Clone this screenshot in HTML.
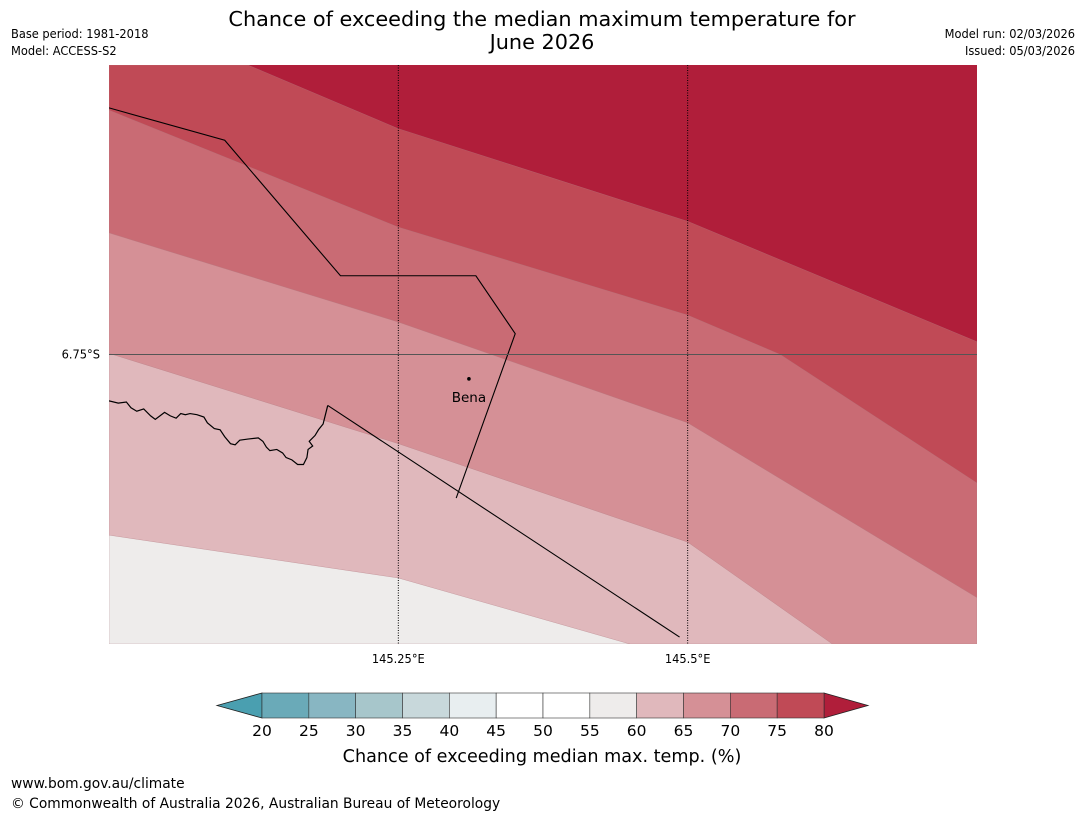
<!DOCTYPE html>
<html><head><meta charset="utf-8"><style>
html,body{margin:0;padding:0;background:#fff;}
svg text{font-family:"DejaVu Sans","Liberation Sans",sans-serif;fill:#000;}
.sm{font-family:"DejaVu Sans Condensed","DejaVu Sans","Liberation Sans",sans-serif;font-size:12.7px;}
</style></head><body>
<svg id="chart" width="1085" height="816" viewBox="0 0 1085 816" xmlns="http://www.w3.org/2000/svg">
<text x="542" y="26" text-anchor="middle" font-size="20.8">Chance of exceeding the median maximum temperature for</text>
<text x="542" y="49" text-anchor="middle" font-size="20.8">June 2026</text>
<text class="sm" x="11" y="38">Base period: 1981-2018</text>
<text class="sm" x="11" y="55">Model: ACCESS-S2</text>
<text class="sm" x="1075" y="38" text-anchor="end">Model run: 02/03/2026</text>
<text class="sm" x="1075" y="55" text-anchor="end">Issued: 05/03/2026</text>
<defs><clipPath id="mapclip"><rect x="109" y="65" width="868" height="579"/></clipPath></defs>
<g id="map" clip-path="url(#mapclip)"></g>
<g id="axes"></g>
<g id="cbar"></g>
<text x="542" y="762" text-anchor="middle" font-size="17.6">Chance of exceeding median max. temp. (%)</text>
<text x="11" y="788" font-size="13.8">www.bom.gov.au/climate</text>
<text x="11" y="808" font-size="13.8">© Commonwealth of Australia 2026, Australian Bureau of Meteorology</text>
</svg>
<script>
const levels=[20,25,30,35,40,45,50,55,60,65,70,75,80];
const bandColors=["#6aaab8","#88b6c2","#a7c6cb","#c8d8db","#e8eef0","#ffffff","#ffffff","#eeeceb","#e0b8bc","#d59096","#c96b74","#c04a56"];
const underColor="#4a9fb0", overColor="#b01e3a";
const contourLevels=[60,65,70,75,80];
const contour60=[[145.0,-6.906],[145.25,-6.943],[145.45,-7.0]];
const contour65=[[145.0,-6.749],[145.25,-6.827],[145.5,-6.912],[145.625,-7.0]];
const contour70=[[145.0,-6.645],[145.25,-6.722],[145.5,-6.809],[145.75,-6.96]];
const contour75=[[145.0,-6.539],[145.25,-6.64],[145.5,-6.716],[145.58,-6.75],[145.75,-6.861]];
const contour80=[[145.12,-6.5],[145.25,-6.555],[145.5,-6.635],[145.75,-6.739]];
const contours=[contour60,contour65,contour70,contour75,contour80];
const border1=[[145.0,-6.537],[145.1,-6.565],[145.2,-6.682],[145.317,-6.682],[145.351,-6.732],[145.3,-6.874]];
const border2=[[145.189,-6.794],[145.493,-6.994]];
const river=[[145.0,-6.79],[145.008,-6.792],[145.015,-6.791],[145.019,-6.796],[145.024,-6.799],[145.03,-6.797],[145.036,-6.803],[145.04,-6.806],[145.044,-6.803],[145.048,-6.8],[145.053,-6.803],[145.058,-6.805],[145.062,-6.801],[145.066,-6.802],[145.07,-6.801],[145.076,-6.802],[145.082,-6.804],[145.085,-6.809],[145.091,-6.814],[145.096,-6.815],[145.1,-6.821],[145.105,-6.827],[145.109,-6.828],[145.113,-6.824],[145.12,-6.823],[145.129,-6.822],[145.133,-6.825],[145.136,-6.83],[145.139,-6.833],[145.145,-6.832],[145.15,-6.835],[145.153,-6.839],[145.158,-6.841],[145.163,-6.845],[145.168,-6.845],[145.171,-6.839],[145.172,-6.832],[145.176,-6.829],[145.173,-6.825],[145.178,-6.82],[145.181,-6.815],[145.185,-6.81],[145.189,-6.794]];
const town={name:"Bena",lon:145.311,lat:-6.771};
const lonTicks=[145.25,145.5], lonLabels=["145.25°E","145.5°E"];
const latTicks=[-6.75], latLabels=["6.75°S"];
const L=109,R=977,T=65,B=644,lon0=145.0,lon1=145.75,lat0=-6.5,lat1=-7.0;
const X=lon=>L+(lon-lon0)/(lon1-lon0)*(R-L);
const Y=lat=>T+(lat-lat0)/(lat1-lat0)*(B-T);
const NS="http://www.w3.org/2000/svg";
function mk(tag,parent,attrs){const e=document.createElementNS(NS,tag);for(const k in attrs)e.setAttribute(k,attrs[k]);parent.appendChild(e);return e;}
const map=document.getElementById('map');
const bg=mk('rect',map,{x:L,y:T,width:R-L,height:B-T,fill:overColor});


for(let i=contours.length-1;i>=0;i--){
  let pts=contours[i].slice();
  if(pts[0][0]>lon0)pts.unshift([lon0,lat0]);
  if(pts[pts.length-1][0]>=lon1)pts.push([lon1,lat1]);
  pts.push([lon0,lat1]);
  const lv=contourLevels[i];
  const col=bandColors[levels.indexOf(lv)-1];
  const p=mk('polygon',map,{points:pts.map(q=>X(q[0])+','+Y(q[1])).join(' '),fill:col,stroke:'#b07880','stroke-width':0.3});
  
  
}
function line(arr,name,w){const p=mk('polyline',map,{points:arr.map(q=>X(q[0])+','+Y(q[1])).join(' '),fill:'none',stroke:'#000','stroke-width':w});

}
line(river,'coastline-river',1.2);
line(border1,'province-border',1.1);
line(border2,'province-border-south',1.1);
const ax=document.getElementById('axes');
lonTicks.forEach((t,i)=>{
  const g=mk('line',ax,{x1:X(t),x2:X(t),y1:T,y2:B,stroke:'#000','stroke-width':1,'stroke-dasharray':'1,1.5'});
  
  
  const tx=mk('text',ax,{x:X(t),y:B+19,'text-anchor':'middle',class:'sm'});
  tx.textContent=lonLabels[i];
  
  
});
latTicks.forEach((t,i)=>{
  const g=mk('line',ax,{x1:L,x2:R,y1:Y(t),y2:Y(t),stroke:'#555','stroke-width':1});
  
  
  const tx=mk('text',ax,{x:L-9,y:Y(t)+4,'text-anchor':'end',class:'sm'});
  tx.textContent=latLabels[i];
  
  
});
const dot=mk('circle',ax,{cx:X(town.lon),cy:Y(town.lat),r:1.8,fill:'#000'});


const tl=mk('text',ax,{x:X(town.lon),y:Y(town.lat)+23,'text-anchor':'middle','font-size':13.5});
tl.textContent=town.name;


const cb=document.getElementById('cbar');
const cL=262,cR=824,cT=693,cB=718;
const CX=v=>cL+(v-levels[0])/(levels[levels.length-1]-levels[0])*(cR-cL);
const lo=mk('polygon',cb,{points:`${cL},${cT} 217,${(cT+cB)/2} ${cL},${cB}`,fill:underColor,stroke:'#222','stroke-width':0.8});


const hi=mk('polygon',cb,{points:`${cR},${cT} 868,${(cT+cB)/2} ${cR},${cB}`,fill:overColor,stroke:'#222','stroke-width':0.8});


bandColors.forEach((c,i)=>{
  const r=mk('rect',cb,{x:CX(levels[i]),y:cT,width:CX(levels[i+1])-CX(levels[i]),height:cB-cT,fill:c,stroke:'#333','stroke-width':0.6});
  
  
});
levels.forEach(v=>{
  const t=mk('text',cb,{x:CX(v),y:cB+18,'text-anchor':'middle','font-size':15.5});
  t.textContent=v;
  
  
});
</script>
</body></html>
